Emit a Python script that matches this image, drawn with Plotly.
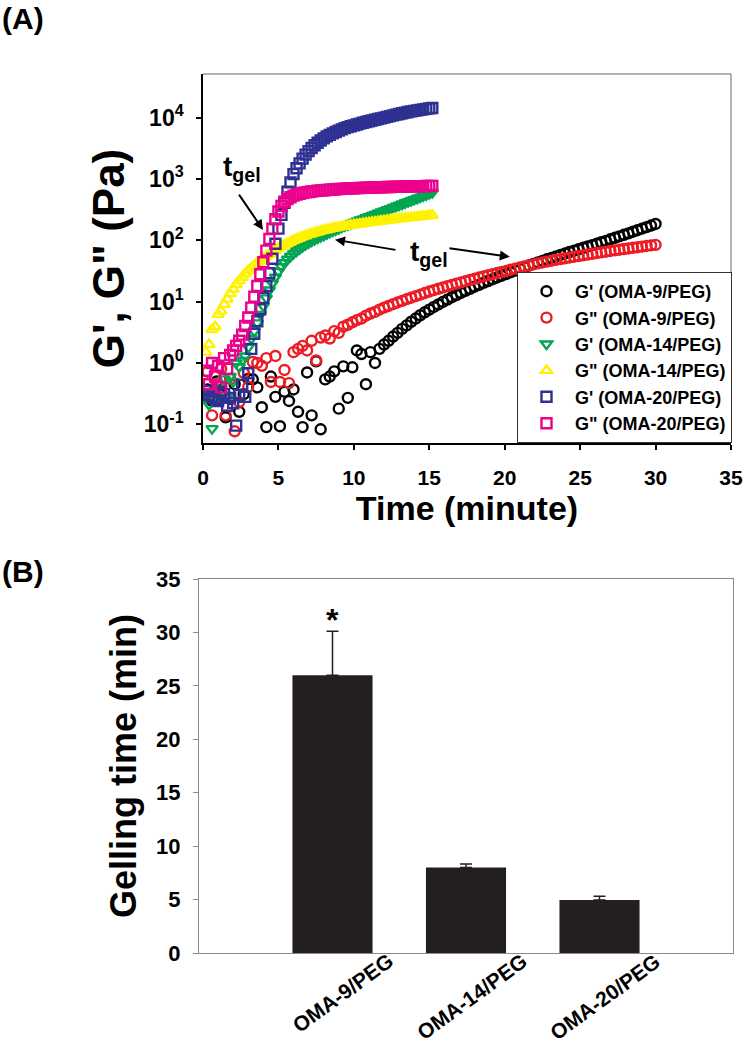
import plotly.graph_objects as go

# ---------------- data: panel (A) rheology ----------------
time_oma9 = [0.3, 0.6, 0.9, 1.2, 1.5, 1.8, 2.1, 2.4, 2.7, 3.0,
             3.3, 3.6, 3.9, 4.2, 4.5, 4.8, 5.1, 5.4, 5.7, 6.0,
             6.3, 6.6, 6.9, 7.2, 7.5, 7.8, 8.1, 8.4, 8.7, 9.0,
             9.3, 9.6, 9.9, 10.2, 10.5, 10.8, 11.1, 11.4, 11.7, 12.0,
             12.3, 12.6, 12.9, 13.2, 13.5, 13.8, 14.1, 14.4, 14.7, 15.0,
             15.3, 15.6, 15.9, 16.2, 16.5, 16.8, 17.1, 17.4, 17.7, 18.0,
             18.3, 18.6, 18.9, 19.2, 19.5, 19.8, 20.1, 20.4, 20.7, 21.0,
             21.3, 21.6, 21.9, 22.2, 22.5, 22.8, 23.1, 23.4, 23.7, 24.0,
             24.3, 24.6, 24.9, 25.2, 25.5, 25.8, 26.1, 26.4, 26.7, 27.0,
             27.3, 27.6, 27.9, 28.2, 28.5, 28.8, 29.1, 29.4, 29.7, 30.0]
gp_oma9 = [0.37, 0.24, 0.5, 0.3, 0.13, 0.26, 0.45, 0.16, 0.31, 0.55,
           0.54, 0.40, 0.19, 0.09, 0.6, 0.28, 0.093, 0.34, 0.24, 0.37,
           0.16, 0.09, 0.7, 0.14, 1.06, 0.083, 0.54, 0.6, 0.73, 0.18,
           0.88, 0.27, 0.85, 1.6, 1.4, 0.45, 1.5, 1.0, 1.7, 2.0,
           2.3, 2.7, 3.1, 3.6, 4.1, 4.7, 5.3, 6.0, 6.7, 7.4,
           8.2, 9.0, 9.9, 10.8, 11.8, 12.8, 13.9, 15.0, 16.2, 17.5,
           18.8, 20.2, 21.7, 23.2, 24.8, 26.5, 28.3, 30.2, 32.2, 34.3,
           36.5, 38.8, 41.2, 43.7, 46.3, 49.0, 51.8, 54.8, 57.9, 61.1,
           64.5, 68.0, 71.7, 75.5, 79.5, 83.6, 88, 93, 98, 104,
           110, 116, 123, 130, 138, 146, 155, 164, 174, 185]
gpp_oma9 = [0.72, 0.14, 0.45, 0.8, 0.14, 0.55, 0.077, 0.23, 0.69, 0.41,
            1.04, 1.0, 0.9, 1.2, 0.49, 1.3, 0.49, 0.77, 0.47, 1.5,
            1.7, 1.9, 1.6, 2.3, 1.1, 2.6, 2.8, 2.5, 3.3, 3.1,
            3.9, 4.2, 4.6, 5.0, 5.3, 5.9, 6.4, 6.8, 7.4, 8.0,
            8.5, 9.1, 9.7, 10.3, 11.0, 11.6, 12.3, 13.0, 13.8, 14.6,
            15.4, 16.2, 17.0, 17.9, 18.8, 19.7, 20.6, 21.6, 22.6, 23.6,
            24.7, 25.8, 26.9, 28.1, 29.3, 30.5, 31.8, 33.2, 34.6, 36.0,
            37.5, 39.0, 40.5, 42.0, 43.5, 45.0, 46.5, 48.0, 49.5, 51.0,
            52.5, 54.0, 55.5, 57.0, 58.7, 60.3, 62.0, 63.6, 65.2, 67.0,
            68.6, 70.3, 72.0, 73.7, 75.5, 77.2, 79.0, 80.8, 82.6, 84.4]

time_oma14_20 = [0.2, 0.4, 0.6, 0.8, 1.0, 1.2, 1.4, 1.6, 1.8, 2.0,
                 2.2, 2.4, 2.6, 2.8, 3.0, 3.2, 3.4, 3.6, 3.8, 4.0,
                 4.2, 4.4, 4.6, 4.8, 5.0, 5.2, 5.4, 5.6, 5.8, 6.0,
                 6.2, 6.4, 6.6, 6.8, 7.0, 7.2, 7.4, 7.6, 7.8, 8.0,
                 8.2, 8.4, 8.6, 8.8, 9.0, 9.2, 9.4, 9.6, 9.8, 10.0,
                 10.2, 10.4, 10.6, 10.8, 11.0, 11.2, 11.4, 11.6, 11.8, 12.0,
                 12.2, 12.4, 12.6, 12.8, 13.0, 13.2, 13.4, 13.6, 13.8, 14.0,
                 14.2, 14.4, 14.6, 14.8, 15.0, 15.2]
gp_oma14 = [0.30, 0.21, 0.085, 0.35, 0.27, 0.45, 0.55, 0.28, 0.6, 0.5,
            1.0, 0.87, 1.1, 1.3, 1.8, 2.5, 3.3, 4.5, 6.2, 8.5,
            11.5, 15.5, 20, 25, 31, 37, 43, 49, 55, 61,
            67, 73, 79, 85, 91, 97, 103, 109, 115, 121,
            128, 135, 142, 149, 156, 164, 172, 180, 188, 196,
            205, 214, 223, 233, 243, 254, 265, 277, 289, 302,
            315, 329, 344, 359, 375, 391, 409, 427, 446, 465,
            486, 507, 530, 553, 578, 603]
gpp_oma14 = [1.5, 2.0, 3.5, 3.9, 6.2, 7.0, 9.0, 11, 13.5, 16,
             19, 22, 25, 28.5, 32, 35.5, 39, 43, 47, 51,
             55, 59, 64, 69, 74, 79, 84, 89, 94, 99,
             104, 109, 114, 119, 124, 128, 133, 137, 141, 145,
             149, 153, 157, 160, 164, 167, 170, 173, 176, 179,
             182, 185, 188, 191, 194, 197, 200, 203, 206, 209,
             212, 215, 218, 221, 224, 227, 230, 233, 236, 238,
             241, 244, 247, 250, 253, 256]
gp_oma20 = [0.35, 0.30, 0.28, 0.26, 0.24, 0.34, 0.31, 0.20, 0.27, 0.22,
            0.095, 0.30, 0.44, 0.28, 0.68, 1.7, 3.0, 4.8, 7.5, 11.5,
            18, 29, 50, 88, 155, 260, 410, 620, 880, 1200,
            1500, 1800, 2150, 2500, 2850, 3200, 3550, 3900, 4250, 4600,
            4950, 5250, 5550, 5850, 6150, 6450, 6750, 7000, 7250, 7500,
            7750, 8000, 8250, 8500, 8750, 9000, 9250, 9500, 9750, 10000,
            10300, 10600, 10900, 11200, 11500, 11800, 12100, 12400, 12650, 12900,
            13150, 13400, 13650, 13900, 14150, 14400]
gpp_oma20 = [0.75, 0.45, 1.0, 0.6, 0.9, 0.40, 1.2, 0.8, 1.35, 1.6,
             1.9, 2.3, 2.9, 4.0, 5.5, 8, 12, 18, 28, 44,
             68, 105, 155, 220, 295, 365, 425, 470, 505, 535,
             555, 575, 590, 605, 615, 625, 635, 643, 650, 657,
             663, 669, 675, 680, 685, 690, 694, 698, 702, 706,
             710, 714, 717, 720, 723, 726, 729, 732, 735, 737,
             740, 742, 745, 747, 749, 751, 753, 755, 757, 759,
             761, 763, 765, 767, 769, 771]

series_names = ["G' (OMA-9/PEG)", 'G" (OMA-9/PEG)', "G' (OMA-14/PEG)",
                'G" (OMA-14/PEG)', "G' (OMA-20/PEG)", 'G" (OMA-20/PEG)']
time_ticks = [0, 5, 10, 15, 20, 25, 30, 35]
modulus_tick_vals = [0.1, 1, 10, 100, 1000, 10000]
modulus_tick_text = ["10<sup>-1</sup>", "10<sup>0</sup>", "10<sup>1</sup>",
                     "10<sup>2</sup>", "10<sup>3</sup>", "10<sup>4</sup>"]

# ---------------- data: panel (B) gelling time ----------------
groups = ["OMA-9/PEG", "OMA-14/PEG", "OMA-20/PEG"]
gel_time = [26.0, 8.0, 4.95]
gel_err = [4.1, 0.32, 0.37]
gel_ticks = [0, 5, 10, 15, 20, 25, 30, 35]

for a, b in [(time_oma9, gp_oma9), (time_oma9, gpp_oma9), (time_oma14_20, gp_oma14),
             (time_oma14_20, gpp_oma14), (time_oma14_20, gp_oma20), (time_oma14_20, gpp_oma20)]:
    if len(a) != len(b):
        raise ValueError(f"length mismatch {len(a)} vs {len(b)}")

FONT = "Liberation Sans, Arial, sans-serif"
W, H = 745, 1050

fig = go.Figure()

series = [
    (time_oma9, gp_oma9, "circle-open", "#000000"),
    (time_oma9, gpp_oma9, "circle-open", "#ED1C24"),
    (time_oma14_20, gp_oma14, "triangle-down-open", "#00A651"),
    (time_oma14_20, gpp_oma14, "triangle-up-open", "#FFF200"),
    (time_oma14_20, gp_oma20, "square-open", "#2E3192"),
    (time_oma14_20, gpp_oma20, "square-open", "#EC008C"),
]
for name, (tx, vy, sym, col) in zip(series_names, series):
    fig.add_trace(go.Scatter(
        x=tx, y=vy, mode="markers", name=name, legendgroup=name,
        marker=dict(symbol=sym, size=10, color=col, line=dict(color=col, width=2.4)),
        xaxis="x", yaxis="y"))

fig.add_trace(go.Bar(
    x=groups, y=gel_time, width=0.6, marker=dict(color="#231F20", line=dict(width=0)),
    error_y=dict(type="data", array=gel_err, arrayminus=[0, 0, 0], symmetric=False,
                 color="#231F20", thickness=1.5, width=6),
    xaxis="x2", yaxis="y2", showlegend=False))

bold = dict(family=FONT, color="black", weight="bold")

fig.update_layout(
    template="none",
    width=W, height=H,
    margin=dict(l=0, r=0, t=0, b=0),
    paper_bgcolor="white", plot_bgcolor="white",
    showlegend=True,
    legend=dict(x=732 / W, y=1 - 443 / H, xanchor="right", yanchor="bottom",
                bordercolor="#333333", borderwidth=1, bgcolor="white",
                font=dict(bold, size=18), itemwidth=47, tracegroupgap=0),
    xaxis=dict(domain=[203 / W, 731 / W], anchor="y", range=[0, 35],
               tickvals=time_ticks, ticks="outside", ticklen=5, tickwidth=1.5,
               tickcolor="black", showline=True, linecolor="black", linewidth=1.5,
               showgrid=False, zeroline=False, ticklabelstandoff=10,
               tickfont=dict(bold, size=21),
               title=dict(text="Time (minute)", font=dict(bold, size=34), standoff=4)),
    yaxis=dict(domain=[1 - 443 / H, 1 - 74 / H], anchor="x", type="log",
               range=[-1.305, 4.712], tickvals=modulus_tick_vals, ticktext=modulus_tick_text,
               ticks="outside", ticklen=5, tickwidth=1.5, tickcolor="black",
               showline=True, linecolor="black", linewidth=1.5,
               showgrid=False, zeroline=False, ticklabelstandoff=8,
               tickfont=dict(bold, size=23),
               title=dict(text='G\', G" (Pa)', font=dict(bold, size=44), standoff=5)),
    xaxis2=dict(domain=[199 / W, 733 / W], anchor="y2", type="category",
                categoryorder="array", categoryarray=groups, range=[-1, 3],
                showticklabels=False, ticks="", showline=True, linecolor="#8a8a8a",
                linewidth=1, mirror=True, showgrid=False, zeroline=False),
    yaxis2=dict(domain=[1 - 953 / H, 1 - 579 / H], anchor="x2", range=[0, 35],
                tickvals=gel_ticks, ticks="outside", ticklen=5, tickwidth=1,
                tickcolor="#8a8a8a", showline=True, linecolor="#8a8a8a", linewidth=1,
                mirror=True, showgrid=False, zeroline=False, ticklabelstandoff=8,
                tickfont=dict(bold, size=22),
                title=dict(text="Gelling time (min)", font=dict(bold, size=36), standoff=8)),
)

# top/right frame of panel A
fig.add_shape(type="line", xref="x domain", yref="y domain", x0=0, x1=1, y0=1, y1=1,
              line=dict(color="#666666", width=1))
fig.add_shape(type="line", xref="x domain", yref="y domain", x0=1, x1=1, y0=0, y1=1,
              line=dict(color="#666666", width=1))

ann = []
ann.append(dict(text="<b>(A)</b>", xref="paper", yref="paper", x=0, y=1,
                xanchor="left", yanchor="top", showarrow=False, yshift=0,
                font=dict(family=FONT, size=30, color="black")))
ann.append(dict(text="<b>(B)</b>", xref="paper", yref="paper", x=0, y=1 - 557 / H,
                xanchor="left", yanchor="top", showarrow=False, yshift=4,
                font=dict(family=FONT, size=30, color="black")))
# t_gel labels and arrows (y in log10 units)
ann.append(dict(text="<b>t<sub>gel</sub></b>", xref="x", yref="y", x=2.58, y=3.17,
                showarrow=False, font=dict(family=FONT, size=28, color="black")))
ann.append(dict(text="<b>t<sub>gel</sub></b>", xref="x", yref="y", x=15.0, y=1.78,
                showarrow=False, font=dict(family=FONT, size=28, color="black")))
for (hx, hy, tx_, ty_) in [(3.98, 2.17, 2.32, 2.77), (8.75, 2.01, 12.86, 1.84),
                            (20.34, 1.73, 16.24, 1.875)]:
    ann.append(dict(text="", xref="x", yref="y", x=hx, y=hy, axref="x", ayref="y",
                    ax=tx_, ay=ty_, showarrow=True, arrowhead=2, arrowsize=1,
                    arrowwidth=2, arrowcolor="black", standoff=0, startstandoff=0))
# asterisk
ann.append(dict(text="<b>*</b>", xref="x2", yref="y2", x=groups[0], y=31.2,
                showarrow=False, font=dict(family=FONT, size=32, color="black")))
# rotated category labels
for g in groups:
    ann.append(dict(text=f"<b>{g}</b>", xref="x2", yref="y2", x=g, y=0,
                    xanchor="right", yanchor="top", xshift=68, yshift=7,
                    textangle=-36, showarrow=False,
                    font=dict(family=FONT, size=21, color="black")))
fig.update_layout(annotations=ann)

fig.write_html("out.html", config={"displayModeBar": False},
               post_script="document.body.style.margin='0px';")
